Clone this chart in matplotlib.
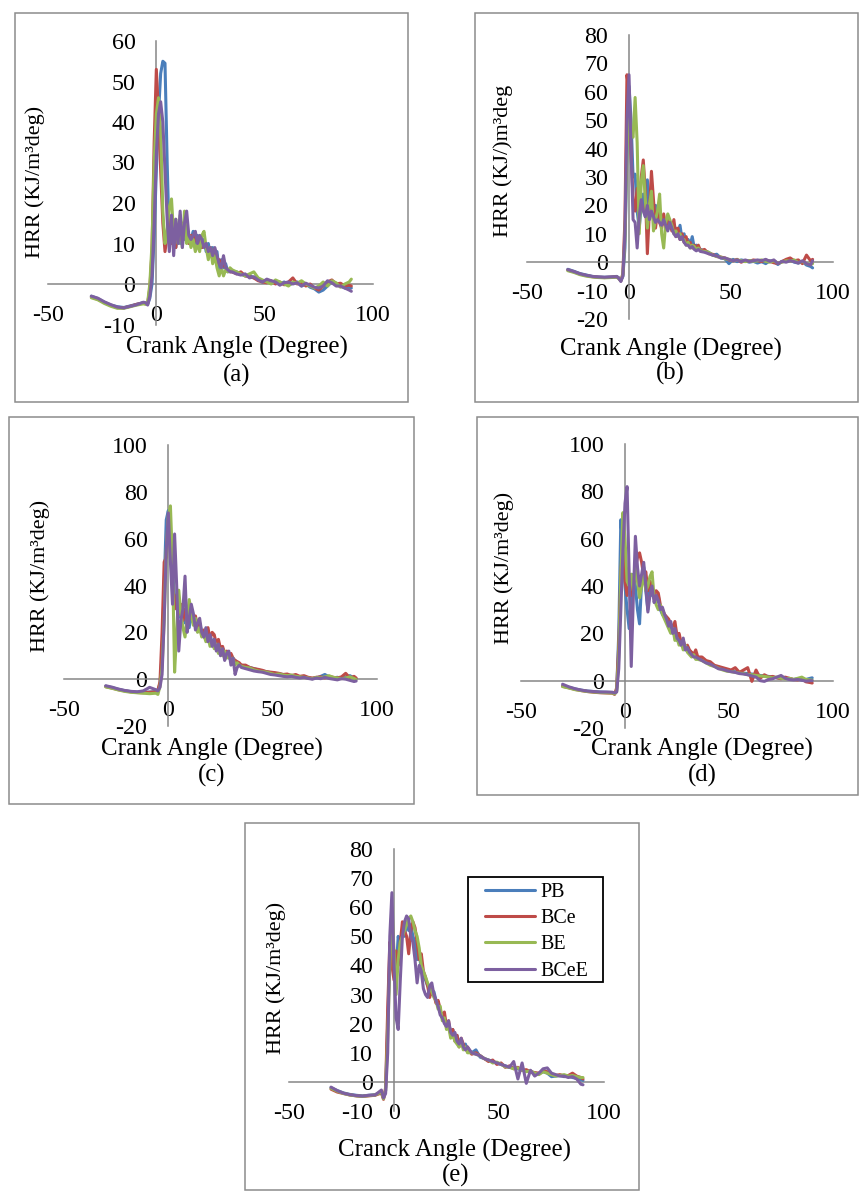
import matplotlib
matplotlib.use("Agg")
import matplotlib.pyplot as plt
from matplotlib.patches import Rectangle

plt.rcParams['font.family'] = ['Liberation Serif', 'DejaVu Serif']

# ---------------- data ----------------
X = [-30, -27, -24, -21, -18, -15, -12, -9, -6,
     -5, -4, -3, -2, -1, 0, 1, 2, 3, 4, 5, 6, 7, 8, 9, 10, 11, 12, 13, 14,
     15, 16, 17, 18, 19, 20, 21, 22, 23, 24, 25, 26, 27, 28, 29, 30, 31, 32, 33, 34, 35,
     37, 39, 41, 43, 45, 47, 49, 51, 53, 55, 57, 59, 61, 63,
     65, 67, 69, 71, 73, 75, 77, 79, 81, 83, 85, 87, 89, 90]

series_names = ["PB", "BCe", "BE", "BCeE"]

a_PB = [-3.0, -3.6, -4.5, -5.2, -5.6, -5.8, -5.4, -5.0, -4.6,
        -4.8, -5.0, -3.5, 0, 12, 28, 42, 52, 55, 54.5, 30, 10, 12, 15, 9, 14, 10, 15, 11, 14,
        12, 11, 13, 10, 12, 11, 9, 11, 8, 10, 7, 9, 6, 8, 3, 6, 4, 5, 3, 3.5, 3,
        3, 2.5, 2, 2.2, 1.5, 1.2, 0.5, 1, 0.2, 0.8, 0, 0.5, -0.3, 0.2,
        0.5, -0.5, 0, -0.8, -1.2, -2, -1.5, -0.5, 0.5, 0, -0.5, -1, -0.8, -1.0]
a_BCe = [-3.2, -3.8, -4.6, -5.3, -5.8, -5.9, -5.5, -5.0, -4.7,
         -4.9, -4.8, -1, 8, 35, 53, 42, 28, 15, 8, 12, 16, 10, 15, 9, 14, 11, 15, 12, 12,
         10, 12, 10, 12, 10, 11, 9, 10, 9, 8, 9, 7, 8, 5, 6, 4, 5, 4, 3.5, 3, 3,
         2.5, 3, 2, 1.8, 1.5, 0.8, 0.5, 0.3, 0.8, 0, 0.5, -0.2, 0.5, 1.5,
         0, 0.5, -0.5, 0, -1, -1.5, -0.5, 0.5, 1, 0, 0.2, -0.5, -0.3, -0.5]
a_BE = [-3.4, -3.9, -4.8, -5.5, -6.0, -6.0, -5.6, -5.2, -4.9,
        -5, -4.5, 0, 10, 30, 42, 46, 38, 18, 10, 13, 19, 21, 12, 16, 10, 17, 9, 18, 10,
        12, 9, 11, 8, 10, 8, 12, 13, 9, 6, 9, 5, 7, 4, 2, 4, 2, 3.5, 3, 4, 3.5,
        3, 2.5, 2, 2.5, 3, 1.5, 1, 0.5, 0, 1, 0.5, 0, -0.5, 0.5,
        0.2, 0.8, 0, -0.5, -1, -0.5, 0.5, -0.5, 0.8, 0.3, -0.8, 0, 0.5, 1.2]
a_BCeE = [-3.0, -3.5, -4.4, -5.1, -5.7, -5.9, -5.5, -5.1, -4.5,
          -4.6, -5.2, -3, 2, 15, 32, 42, 45, 40, 28, 16, 8, 17, 7, 16, 10, 18, 9, 15, 18,
          12, 11, 12, 13, 10, 12, 11, 9, 10, 8, 9, 7, 9, 7, 5, 4, 7, 4, 3.5, 3, 3,
          2.5, 2.2, 2.5, 1.5, 1.8, 1, 0.5, 1.2, 0.8, 0.5, -0.3, 0.3, 0.5, 0,
          0.3, -0.5, 0.2, -0.3, -0.8, -1, -0.5, 0.8, 0.3, -0.5, -0.5, -1, -1.5, -1.8]

b_PB = [-2.5, -3.2, -4.0, -4.5, -5.0, -5.2, -5.3, -5.2, -5.0,
        -5.5, -6.5, -5, 5, 40, 62, 50, 30, 31, 18, 12, 20, 24, 16, 29, 18, 20, 15, 20, 19,
        17, 15, 14, 13, 15, 12, 13, 11, 12, 10, 13, 8, 10, 7, 8, 6, 9, 5, 6, 5, 4.5,
        4, 3.5, 2.5, 2.8, 1.5, 1.2, -0.5, 1, 0.2, 0.8, 0.5, 0, 0.3, -0.3,
        0.2, -0.5, 0.5, 0.2, -0.8, 0.3, 0.5, 0.8, 0, -0.3, 0.2, -1, -1.5, -2.0]
b_BCe = [-2.8, -3.4, -4.2, -4.7, -5.1, -5.3, -5.4, -5.3, -5.2,
         -5.6, -6.6, -4, 15, 66, 60, 38, 22, 18, 26, 20, 30, 36, 25, 3, 18, 32, 22, 12, 18,
         14, 12, 17, 12, 16, 14, 11, 15, 9, 12, 8, 10, 7, 9, 6, 7, 5, 6, 5, 6, 4,
         4.5, 3, 2.8, 2, 1.8, 1.5, 0.8, 0.5, 1, 0, 0.6, 0.3, 0.8, 0.5,
         0.2, 0.8, 0.3, -0.2, -0.5, 0.2, 1, 1.5, 0.5, 0.8, -0.5, 2.5, 0.5, 1.0]
b_BE = [-3.0, -3.6, -4.4, -4.9, -5.2, -5.4, -5.5, -5.4, -5.3,
        -5.8, -6.5, -4.5, 8, 40, 52, 45, 44, 58, 42, 10, 28, 34, 22, 12, 20, 25, 11, 15, 18,
        24, 10, 5, 14, 17, 15, 13, 10, 11, 9, 10, 8, 8, 6, 7, 5, 6, 5.5, 4.5, 5, 4,
        3.8, 3.5, 2.5, 2, 1.8, 1.2, 1, 0.5, 0.8, 0.5, 0.2, 0.6, 0.3, 0.5,
        0.8, 0.3, 0, 0.5, -0.3, 0, 0.5, 0.3, 0.8, -0.2, 0.3, -0.5, -0.8, -0.5]
b_BCeE = [-2.6, -3.3, -4.1, -4.6, -5.0, -5.2, -5.3, -5.2, -5.1,
          -5.7, -6.8, -4.8, 10, 50, 66, 40, 15, 14, 5, 16, 22, 18, 16, 20, 15, 18, 16, 14, 15,
          14, 13, 15, 13, 11, 14, 12, 10, 9, 10, 8, 9, 7, 6, 6, 5, 5.5, 4.5, 4, 4.5, 3.8,
          3.5, 3, 2.5, 2.2, 1.5, 1.5, 1, 0.5, 0.8, 0.2, 0.8, 0.3, 0.5, 0.8,
          0.5, 1, 0.3, 0.8, -0.5, 0.3, 0, 0.5, 0.2, -0.3, 0.5, -0.5, -1.0, 0.5]

c_PB = [-3.0, -3.6, -4.3, -4.9, -5.3, -5.5, -5.6, -5.5, -5.3,
        -4.5, -2, 10, 40, 68, 72, 58, 46, 35, 30, 32, 26, 28, 24, 30, 22, 28, 24, 26, 22,
        24, 20, 18, 21, 17, 19, 15, 17, 14, 15, 12, 13, 10, 11, 9, 10, 7, 8, 7, 6, 6,
        5.5, 5, 4.5, 4, 3.5, 3.2, 2.8, 2.5, 2.2, 2, 1.8, 1.5, 1.2, 1,
        1, 0.5, 0.2, 0.5, 1.2, 2, 1, 0.5, 0.8, 0.3, 1, 1.5, 0.5, 0.2]
c_BCe = [-3.2, -3.8, -4.5, -5.0, -5.4, -5.7, -5.8, -5.6, -5.4,
         -4.8, -1, 20, 50, 52, 68, 62, 40, 30, 36, 28, 32, 25, 30, 24, 28, 26, 25, 27, 22,
         23, 19, 21, 18, 22, 17, 20, 19, 15, 17, 13, 14, 11, 12, 10, 11, 9, 8, 7.5, 7, 6,
         6, 5, 4.5, 4.2, 3.8, 3.2, 3, 2.8, 2.5, 2, 2.2, 1.5, 2, 1.2,
         1.5, 0.8, 0.5, 0.8, 1, 0.5, 1.2, 0.8, 0.5, 1, 2.5, 0.5, 1.2, 0.5]
c_BE = [-3.3, -3.9, -4.6, -5.2, -5.6, -5.8, -6.0, -6.2, -6.0,
        -6.5, -3, 5, 25, 55, 70, 74, 50, 3, 20, 38, 28, 22, 18, 26, 34, 28, 23, 26, 20,
        22, 18, 19, 16, 18, 14, 16, 13, 15, 11, 13, 10, 12, 9, 10, 8, 9, 6, 7, 6, 5.5,
        5, 4.8, 4, 3.5, 3.2, 3, 2.5, 2, 2.2, 1.8, 1.5, 1.8, 1.2, 1,
        0.8, 0.5, 0.2, 0.8, 0.5, 1, 1.5, 0.8, 0.5, 0.2, 0.5, 1, 0.3, -0.2]
c_BCeE = [-2.8, -3.4, -4.2, -4.8, -5.2, -5.4, -5.0, -3.5, -4.5,
          -5, -3.5, 2, 25, 55, 71, 50, 32, 62, 40, 12, 25, 30, 44, 20, 26, 32, 28, 21, 24,
          26, 20, 18, 22, 16, 19, 14, 17, 12, 15, 10, 13, 8, 11, 12, 6, 9, 2, 5, 6, 5,
          4.5, 4, 3.5, 3.2, 3, 2.5, 2, 1.8, 1.5, 1.2, 1, 1.2, 0.8, 0.5,
          0.8, 0.3, 0, 0.5, 0.2, 0.8, 0.3, 0, -0.3, 0.2, 0, -0.5, -1, -0.8]

d_PB = [-2.2, -2.8, -3.5, -4.0, -4.4, -4.6, -4.8, -4.9, -5.0,
        -5.5, -4, 20, 68, 55, 40, 30, 22, 35, 45, 40, 30, 24, 42, 48, 38, 30, 42, 36, 38,
        33, 36, 30, 28, 27, 25, 24, 22, 20, 21, 17, 18, 15, 16, 13, 14, 12, 12, 11, 10, 10,
        9, 8, 7, 6.2, 5.5, 5, 4.5, 4, 3.8, 3.5, 3.2, 3, 2.8, 2.5,
        2.2, 2, 1.8, 1.5, 1.2, 1, 1, 0.8, 0.5, 0.8, 0.3, 0.5, 1, 1.2]
d_BCe = [-2.4, -3.0, -3.7, -4.2, -4.6, -4.9, -5.1, -5.2, -5.3,
         -5.8, -3, 15, 45, 60, 42, 36, 45, 36, 40, 48, 52, 54, 50, 44, 46, 38, 42, 40, 36,
         38, 37, 32, 30, 28, 27, 26, 24, 22, 25, 19, 20, 16, 17, 14, 15, 13, 12, 11, 13, 10,
         10, 8.5, 8, 6.5, 6, 5.5, 5, 4.5, 5.5, 3.5, 4.5, 5.5, -0.3, 4.5,
         1, 2.5, 1.5, 1.8, 1.2, 0.8, 1.5, 1, 0.5, 0.3, 0.8, -0.5, -0.8, -1.0]
d_BE = [-2.5, -3.1, -3.8, -4.2, -4.6, -4.8, -5.0, -5.1, -5.2,
        -5.6, -4.5, 10, 45, 71, 60, 42, 40, 45, 38, 50, 42, 35, 40, 45, 38, 40, 44, 46, 35,
        32, 30, 32, 28, 26, 24, 22, 20, 22, 17, 18, 15, 16, 13, 15, 12, 11, 10, 11, 9, 9,
        8.5, 7.5, 6.5, 6, 5.2, 4.5, 4, 3.8, 3.5, 3.2, 3, 2.5, 2.5, 2.2,
        2, 1.8, 1.5, 1.2, 1.5, 1, 0.8, 1, 0.5, 1, 1.5, 0.5, 0.3, 0.2]
d_BCeE = [-1.5, -2.6, -3.4, -4.0, -4.4, -4.6, -4.8, -4.8, -4.9,
          -5.2, -4.8, 5, 30, 55, 75, 82, 45, 6, 35, 61, 48, 40, 45, 50, 40, 29, 36, 40, 33,
          36, 34, 30, 31, 28, 26, 23, 25, 20, 22, 18, 17, 15, 18, 13, 14, 12, 11, 10, 10, 9.5,
          8.5, 7.5, 7, 6, 5, 4.8, 4.2, 3.8, 3.5, 3, 2.8, 2.5, 2, 1.5,
          0, -0.3, 0.5, 0.8, 1.5, 2.2, 1, 0.5, 0.3, 0.5, 0.2, -0.2, 0, 0]

e_PB = [-2.0, -3.0, -3.8, -4.3, -4.6, -4.8, -4.6, -4.4, -3.5,
        -5.5, -3, 20, 45, 50, 40, 38, 50, 46, 52, 50, 55, 52, 54, 50, 48, 42, 45, 38, 36,
        35, 33, 32, 30, 31, 28, 26, 24, 22, 21, 19, 20, 17, 18, 15, 16, 13, 14, 12, 13, 11,
        10, 11, 8.5, 8, 7.5, 7, 6.5, 6, 5.5, 5, 4.8, 4.5, 4, 3.8,
        3.5, 3, 2.8, 3.5, 3, 1.8, 2, 2.2, 1.8, 2, 1.5, 1.2, 0.8, 0.5]
e_BCe = [-2.5, -3.5, -4.0, -4.5, -4.8, -5.0, -4.8, -4.6, -3.8,
         -6, -2, 25, 48, 40, 35, 45, 40, 48, 55, 52, 50, 44, 52, 55, 53, 48, 42, 44, 38,
         36, 33, 29, 32, 30, 27, 28, 25, 22, 24, 19, 21, 16, 18, 14, 16, 12, 15, 13, 11, 12,
         9.5, 10, 9, 8, 7, 7.5, 6, 6.5, 5, 5.5, 4.5, 5, 4, 4.2,
         3.5, 3.2, 3, 3.8, 3.5, 2.5, 2.2, 2.5, 2, 2.2, 3, 2, 1.5, 1.0]
e_BE = [-2.2, -3.2, -4.0, -4.5, -4.8, -5.0, -4.7, -4.5, -3.5,
        -5.8, -3, 15, 40, 60, 45, 30, 42, 48, 50, 52, 54, 56, 57, 55, 52, 50, 46, 40, 38,
        36, 34, 32, 31, 29, 28, 25, 26, 21, 22, 18, 19, 15, 16, 14, 13, 12, 14, 11, 12, 10,
        10, 9.5, 9, 8, 7.5, 6.5, 6.8, 6, 5.2, 5, 4.5, 4.8, 4, 3.5,
        3.8, 3, 2.5, 3.5, 3, 2.5, 2, 2.2, 2.5, 2, 2.2, 1.8, 1.5, 1.5]
e_BCeE = [-1.8, -3.0, -3.9, -4.4, -4.7, -4.9, -4.6, -4.5, -2.8,
          -5.5, -4, 10, 50, 65, 40, 22, 18, 35, 50, 55, 57, 56, 50, 48, 42, 34, 40, 38, 32,
          30, 29, 33, 34, 30, 28, 26, 23, 22, 20, 19, 21, 17, 16, 17, 14, 13, 15, 12, 11, 12,
          10, 9.5, 9, 8, 7.5, 7, 6.5, 6, 5.5, 5, 7, 1, 6.5, -0.5,
          4, 2, 3, 4.5, 4.8, 3, 2.5, 2, 2, 1.5, 1.8, 1, -0.8, -1.0]

x_ticks = [-50, 0, 50, 100]
y_ticks_a = [-10, 0, 10, 20, 30, 40, 50, 60]
y_ticks_b = [-20, -10, 0, 10, 20, 30, 40, 50, 60, 70, 80]
y_ticks_c = [-20, 0, 20, 40, 60, 80, 100]
y_ticks_d = [-20, 0, 20, 40, 60, 80, 100]
y_ticks_e = [-10, 0, 10, 20, 30, 40, 50, 60, 70, 80]

# ---------------- style / layout ----------------
W, H = 859, 1192
colors = ["#4A7EBB", "#BE4B48", "#98B954", "#7D60A0"]
FS_TICK = 17.3
FS_XLAB = 17.9
FS_YLAB = 15.9
FS_TAG = 17.8
FS_LEG = 14.4
AXC = "#868686"

fig = plt.figure(figsize=(W / 100, H / 100), dpi=100)
fig.patch.set_facecolor("white")


def fx(x):
    return x / W


def fy(y):
    return 1 - y / H


def box(x0, y0, x1, y1, color="#8C8C8C", lw=1.1, z=0):
    fig.patches.append(Rectangle((fx(x0), fy(y1)), fx(x1) - fx(x0), fy(y0) - fy(y1),
                                 transform=fig.transFigure, fill=False,
                                 edgecolor=color, linewidth=lw, zorder=z))


panels = [
    dict(data=[a_PB, a_BCe, a_BE, a_BCeE], yt=y_ticks_a,
         rect=(48, 373, 41, 324.5), frame=(15, 13, 408, 402),
         ylab="HRR (KJ/m³deg)", ylabpos=(35, 182),
         xlab="Crank Angle (Degree)", xlabpos=(237, 347), tag="(a)", tagpos=(237, 375)),
    dict(data=[b_PB, b_BCe, b_BE, b_BCeE], yt=y_ticks_b,
         rect=(527, 833, 35, 319), frame=(475, 13, 857.5, 402),
         ylab="HRR (KJ/)m³deg", ylabpos=(503, 161),
         xlab="Crank Angle (Degree)", xlabpos=(671, 349), tag="(b)", tagpos=(670, 373)),
    dict(data=[c_PB, c_BCe, c_BE, c_BCeE], yt=y_ticks_c,
         rect=(64, 377, 445, 726), frame=(9, 417, 414, 804),
         ylab="HRR (KJ/m³deg)", ylabpos=(40, 576),
         xlab="Crank Angle (Degree)", xlabpos=(212, 749), tag="(c)", tagpos=(212, 775)),
    dict(data=[d_PB, d_BCe, d_BE, d_BCeE], yt=y_ticks_d,
         rect=(521, 833, 444, 728), frame=(477, 417, 857.5, 795),
         ylab="HRR (KJ/m³deg)", ylabpos=(504, 568),
         xlab="Crank Angle (Degree)", xlabpos=(702, 749), tag="(d)", tagpos=(702, 775)),
    dict(data=[e_PB, e_BCe, e_BE, e_BCeE], yt=y_ticks_e,
         rect=(289, 604, 849, 1111), frame=(245, 823, 639, 1190),
         ylab="HRR (KJ/m³deg)", ylabpos=(276, 978),
         xlab="Cranck Angle (Degree)", xlabpos=(455, 1150), tag="(e)", tagpos=(456, 1175)),
]

last_ax = None
for p in panels:
    box(*p["frame"])
    x0, x1, yt, yb = p["rect"]
    ax = fig.add_axes([fx(x0), fy(yb), fx(x1) - fx(x0), fy(yt) - fy(yb)])
    ax.patch.set_visible(False)
    for k, ys in enumerate(p["data"]):
        ax.plot(X, ys, color=colors[k], lw=2.2, label=series_names[k],
                solid_joinstyle="round", solid_capstyle="round", zorder=3 + k)
    ax.set_xlim(-50, 100)
    ax.set_ylim(p["yt"][0], p["yt"][-1])
    ax.set_xticks(x_ticks)
    ax.set_yticks(p["yt"])
    ax.set_xticklabels([str(v) for v in x_ticks])
    ax.set_yticklabels([str(v) for v in p["yt"]])
    for s in ("top", "right"):
        ax.spines[s].set_visible(False)
    ax.spines["left"].set_position(("data", 0))
    ax.spines["bottom"].set_position(("data", 0))
    for s in ("left", "bottom"):
        ax.spines[s].set_color(AXC)
        ax.spines[s].set_linewidth(1.1)
        ax.spines[s].set_zorder(2)
    ax.tick_params(axis="both", length=0, labelsize=FS_TICK, colors="black")
    ax.tick_params(axis="y", pad=15.0)
    ax.tick_params(axis="x", pad=15.0)
    fig.text(fx(p["ylabpos"][0]), fy(p["ylabpos"][1]), p["ylab"], rotation=90,
             ha="center", va="center", fontsize=FS_YLAB)
    fig.text(fx(p["xlabpos"][0]), fy(p["xlabpos"][1]), p["xlab"],
             ha="center", va="center", fontsize=FS_XLAB)
    fig.text(fx(p["tagpos"][0]), fy(p["tagpos"][1]), p["tag"],
             ha="center", va="center", fontsize=FS_TAG)
    last_ax = ax

# legend (panel e) with a frame matching the reference box
leg = last_ax.legend(loc="upper left", bbox_to_anchor=(fx(485), fy(883)),
                     bbox_transform=fig.transFigure, frameon=False, fontsize=FS_LEG,
                     handlelength=2.5, handletextpad=0.25, labelspacing=0.36,
                     borderpad=0, borderaxespad=0)
for line in leg.get_lines():
    line.set_linewidth(2.2)
box(468, 877, 603, 982, color="black", lw=1.3, z=10)

fig.savefig("out.png", dpi=100, facecolor="white")
